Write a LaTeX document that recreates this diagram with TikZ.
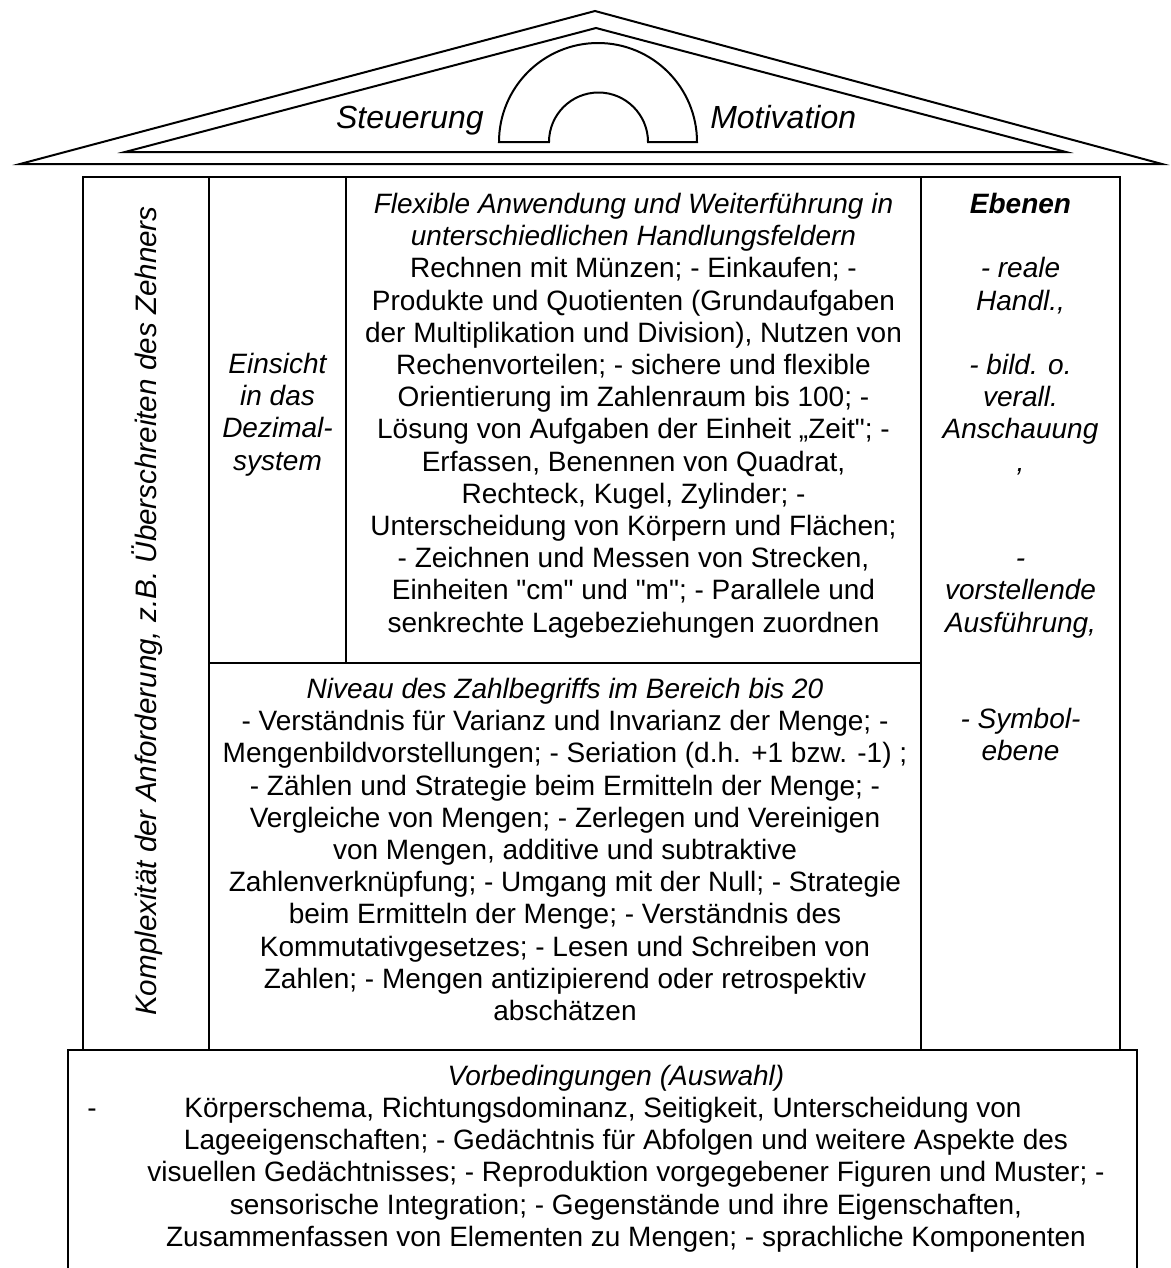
\documentclass[tikz,border=0pt]{standalone}
\usepackage{fontspec}
\setmainfont{Liberation Sans}[Ligatures=TeXOff]
\begin{document}
\begin{tikzpicture}[x=0.75pt,y=-0.75pt,
  roofline/.style={line width=1.5pt, line join=miter},
  tblline/.style={line width=1.7pt, line cap=rect},
  body/.style={font=\fontsize{21}{24.15}\selectfont, align=center, inner sep=0pt},
  ibody/.style={font=\fontsize{21}{24.15}\selectfont\itshape, align=center, inner sep=0pt},
  rooftext/.style={font=\fontsize{24}{28}\selectfont\itshape, inner sep=0pt}]
\useasboundingbox (0,0) rectangle (1171,1268);
% roof
\draw[roofline] (20,164) -- (595,11) -- (1162,164) -- cycle;
\draw[roofline] (125,152) -- (596,28) -- (1066,152) -- cycle;
\draw[roofline] (499,142) arc[start angle=180, end angle=360, radius=99]
  -- (648,142) arc[start angle=0, end angle=-180, radius=49.5] -- cycle;
\node[rooftext, anchor=base east] (steu) at (484,128) {Steuerung};
\node[rooftext, anchor=base west] (moti) at (710,128) {Motivation};
% table
\draw[tblline] (83,1050) -- (83,177) -- (1120,177) -- (1120,1050);
\draw[tblline] (209,177) -- (209,1050);
\draw[tblline] (346,177) -- (346,663);
\draw[tblline] (921,177) -- (921,1050);
\draw[tblline] (209,663) -- (921,663);
\draw[tblline] (68,1268) -- (68,1050) -- (1137,1050) -- (1137,1268);
% texts
\node[ibody, rotate=90, font=\fontsize{22.2}{25}\selectfont\itshape] (kompl) at (147,611)
  {Komplexität der Anforderung, z.B. Überschreiten des Zehners};
\node[ibody, anchor=north] (einsicht) at (277.5,353)
  {Einsicht\\in das\\Dezimal-\\system};
\node[body, anchor=north] (flex) at (633.5,193)
  {\textit{Flexible Anwendung und Weiterführung in}\\
   \textit{unterschiedlichen Handlungsfeldern}\\
   Rechnen mit Münzen; - Einkaufen; -\\
   Produkte und Quotienten (Grundaufgaben\\
   der Multiplikation und Division), Nutzen von\\
   Rechenvorteilen; - sichere und flexible\\
   Orientierung im Zahlenraum bis 100; -\\
   Lösung von Aufgaben der Einheit „Zeit"; -\\
   Erfassen, Benennen von Quadrat,\\
   Rechteck, Kugel, Zylinder; -\\
   Unterscheidung von Körpern und Flächen;\\
   - Zeichnen und Messen von Strecken,\\
   Einheiten "cm" und "m"; - Parallele und\\
   senkrechte Lagebeziehungen zuordnen};
\node[ibody, anchor=north] (ebenen) at (1020.5,193)
  {\textbf{Ebenen}\\ \mbox{}\\ - reale\\ Handl.,\\ \mbox{}\\ - bild. o.\\ verall.\\
   Anschauung\\ ,\\ \mbox{}\\ \mbox{}\\ -\\ vorstellende\\ Ausführung,\\ \mbox{}\\ \mbox{}\\
   - Symbol-\\ ebene};
\node[body, anchor=north] (niveau) at (565,678)
  {\textit{Niveau des Zahlbegriffs im Bereich bis 20}\\
   - Verständnis für Varianz und Invarianz der Menge; -\\
   Mengenbildvorstellungen; - Seriation (d.h. +1 bzw. -1) ;\\
   - Zählen und Strategie beim Ermitteln der Menge; -\\
   Vergleiche von Mengen; - Zerlegen und Vereinigen\\
   von Mengen, additive und subtraktive\\
   Zahlenverknüpfung; - Umgang mit der Null; - Strategie\\
   beim Ermitteln der Menge; - Verständnis des\\
   Kommutativgesetzes; - Lesen und Schreiben von\\
   Zahlen; - Mengen antizipierend oder retrospektiv\\
   abschätzen};
\node[ibody, anchor=north] (vorb) at (616,1065) {Vorbedingungen (Auswahl)};
\node[body, anchor=north] (vorbfirst) at (603,1097)
  {Körperschema, Richtungsdominanz, Seitigkeit, Unterscheidung von};
\node[body, anchor=north] (vorbtext) at (626,1129.2)
  {Lageeigenschaften; - Gedächtnis für Abfolgen und weitere Aspekte des\\
   visuellen Gedächtnisses; - Reproduktion vorgegebener Figuren und Muster; -\\
   sensorische Integration; - Gegenstände und ihre Eigenschaften,\\
   Zusammenfassen von Elementen zu Mengen; - sprachliche Komponenten};
\node[body, anchor=base] (dash) at (92,1117) {-};
\end{tikzpicture}
\end{document}
